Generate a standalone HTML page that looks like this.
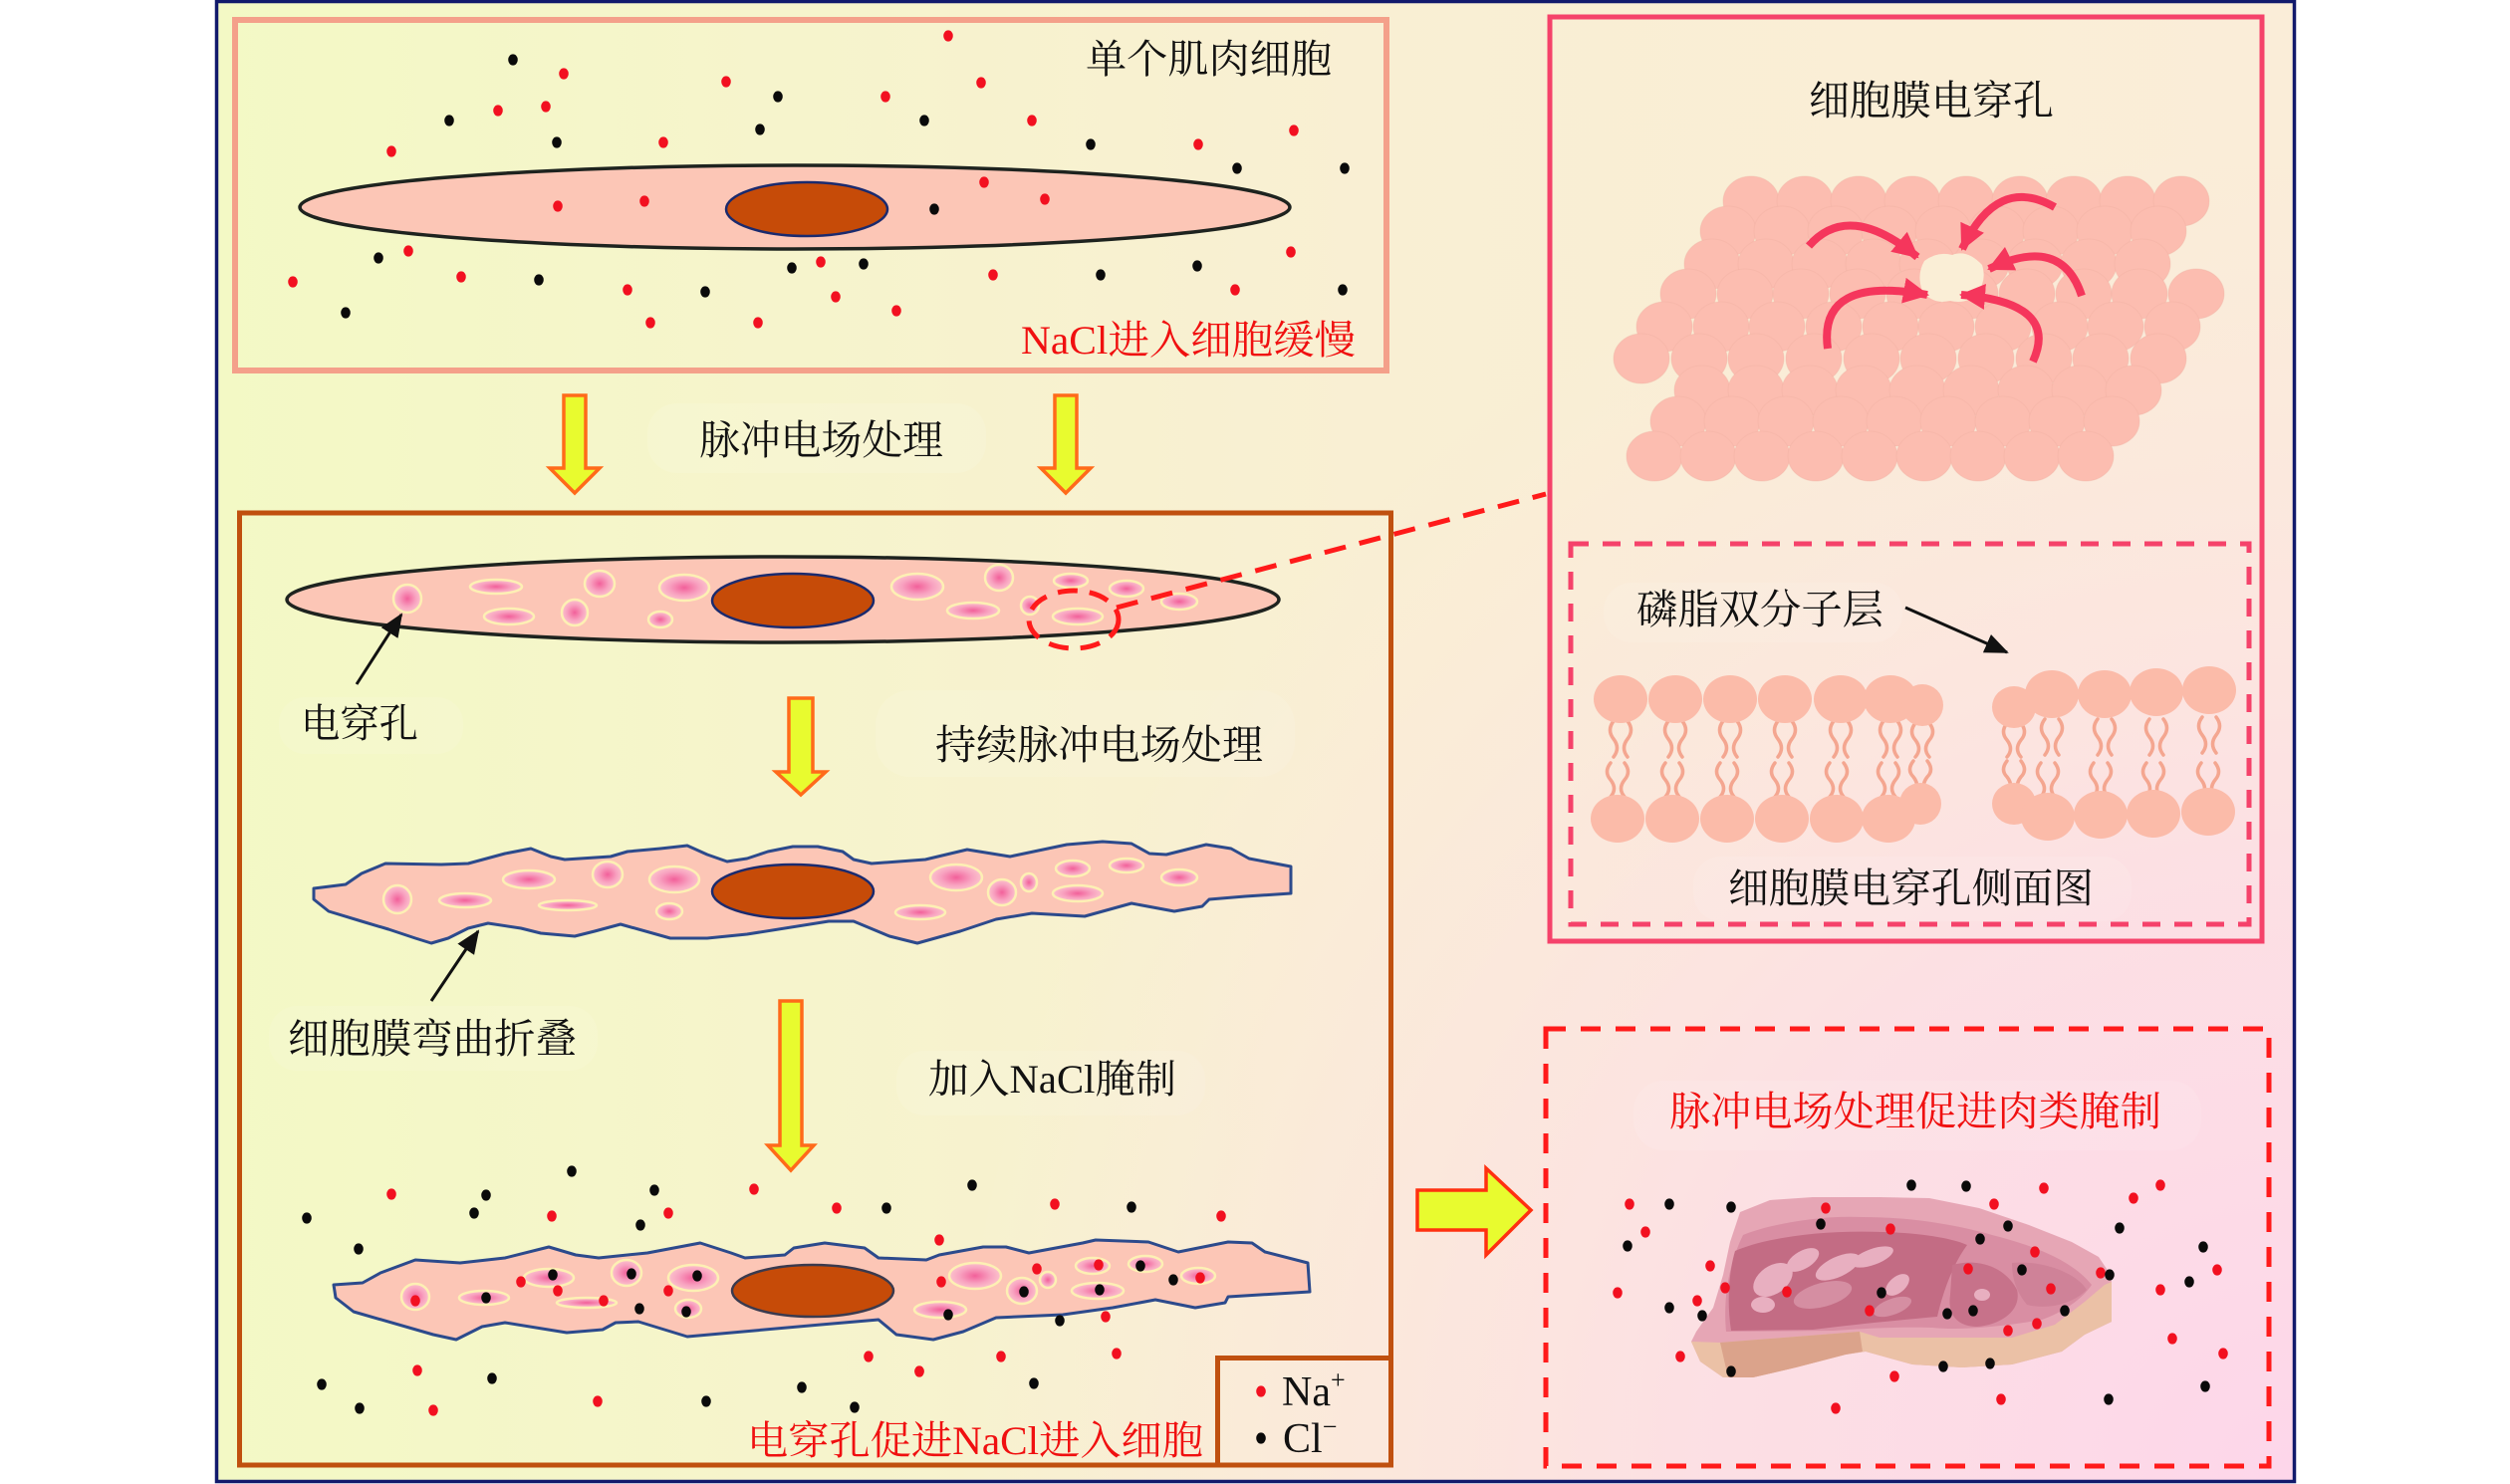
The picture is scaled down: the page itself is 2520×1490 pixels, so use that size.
<!DOCTYPE html>
<html><head><meta charset="utf-8">
<style>
html,body{margin:0;padding:0;background:#fff;}
svg{display:block;}
text{font-family:"Liberation Serif","Noto Serif CJK SC",serif;}
</style></head>
<body>
<svg width="2520" height="1490" viewBox="0 0 2520 1490" xmlns="http://www.w3.org/2000/svg">
<defs>
  <linearGradient id="bgH" x1="216" y1="0" x2="2305" y2="0" gradientUnits="userSpaceOnUse">
    <stop offset="0" stop-color="#f3f9c5"/>
    <stop offset="0.55" stop-color="#f9efd3"/>
    <stop offset="1" stop-color="#faedd8"/>
  </linearGradient>
  <radialGradient id="bgP" cx="2305" cy="1490" r="1350" gradientUnits="userSpaceOnUse">
    <stop offset="0" stop-color="#fdd6ea" stop-opacity="1"/>
    <stop offset="0.45" stop-color="#fddde6" stop-opacity="0.85"/>
    <stop offset="1" stop-color="#fde4e4" stop-opacity="0"/>
  </radialGradient>
  <radialGradient id="pg" cx="0.5" cy="0.5" r="0.5">
    <stop offset="0" stop-color="#f2609a"/>
    <stop offset="0.6" stop-color="#f8a2c0"/>
    <stop offset="1" stop-color="#fcc3cc"/>
  </radialGradient>
  <ellipse id="R" cx="0" cy="0" rx="4.8" ry="5.6" fill="#f21020"/>
  <ellipse id="B" cx="0" cy="0" rx="4.8" ry="5.6" fill="#0a0a0a"/>
  <ellipse id="M" cx="0" cy="0" rx="28" ry="25"/>
  <marker id="ra" markerUnits="userSpaceOnUse" markerWidth="32" markerHeight="30" refX="24" refY="13" orient="auto">
    <path d="M0,0 L26,13 L0,26 Z" fill="#f5365c"/>
  </marker>
  <marker id="ba" markerUnits="userSpaceOnUse" markerWidth="28" markerHeight="24" refX="22" refY="10" orient="auto">
    <path d="M0,0 L24,10 L0,20 Z" fill="#111"/>
  </marker>
</defs>

<!-- frame background -->
<rect x="216" y="1" width="2088" height="1487" fill="url(#bgH)"/>
<rect x="216" y="1" width="2088" height="1487" fill="url(#bgP)"/>

<!-- faint label backdrops -->
<g fill="#ffffff" opacity="0.1">
  <rect x="650" y="405" width="340" height="70" rx="30"/>
  <rect x="280" y="700" width="185" height="57" rx="26"/>
  <rect x="879" y="693" width="421" height="87" rx="35"/>
  <rect x="270" y="1010" width="330" height="65" rx="28"/>
  <rect x="900" y="1055" width="310" height="65" rx="28"/>
  <rect x="1610" y="585" width="300" height="60" rx="28"/>
  <rect x="1700" y="860" width="440" height="65" rx="28"/>
  <rect x="1640" y="1085" width="570" height="70" rx="30"/>
</g>

<!-- main frame border -->
<rect x="217.5" y="1.5" width="2086" height="1486" fill="none" stroke="#121a6c" stroke-width="3.5"/>

<!-- ===== TOP BOX ===== -->
<rect x="236" y="20" width="1156" height="352" fill="none" stroke="#f4a08a" stroke-width="6"/>
<text x="1090" y="73" font-size="40" fill="#111" textLength="247" lengthAdjust="spacingAndGlyphs">单个肌肉细胞</text>
<text x="1025" y="355" font-size="40" fill="#f01010" textLength="336" lengthAdjust="spacingAndGlyphs">NaCl进入细胞缓慢</text>

<ellipse cx="798" cy="208" rx="497" ry="42" fill="#fcc6b6" stroke="#1e231f" stroke-width="3.5"/>
<ellipse cx="810" cy="210" rx="81" ry="27" fill="#c64b08" stroke="#1a2a6e" stroke-width="2.5"/>

<g>
<use href="#R" x="952" y="36"/><use href="#R" x="566" y="74"/><use href="#R" x="729" y="82"/><use href="#R" x="985" y="83"/>
<use href="#R" x="889" y="97"/><use href="#R" x="500" y="111"/><use href="#R" x="548" y="107"/><use href="#R" x="1036" y="121"/>
<use href="#R" x="1299" y="131"/><use href="#R" x="666" y="143"/><use href="#R" x="1203" y="145"/><use href="#R" x="393" y="152"/>
<use href="#R" x="988" y="183"/><use href="#R" x="1049" y="200"/><use href="#R" x="560" y="207"/><use href="#R" x="647" y="202"/>
<use href="#R" x="410" y="252"/><use href="#R" x="294" y="283"/><use href="#R" x="463" y="278"/><use href="#R" x="630" y="291"/>
<use href="#R" x="824" y="263"/><use href="#R" x="839" y="298"/><use href="#R" x="900" y="312"/><use href="#R" x="653" y="324"/>
<use href="#R" x="761" y="324"/><use href="#R" x="997" y="276"/><use href="#R" x="1296" y="253"/><use href="#R" x="1240" y="291"/>
<use href="#B" x="515" y="60"/><use href="#B" x="781" y="97"/><use href="#B" x="451" y="121"/><use href="#B" x="928" y="121"/>
<use href="#B" x="763" y="130"/><use href="#B" x="559" y="143"/><use href="#B" x="1095" y="145"/><use href="#B" x="1242" y="169"/>
<use href="#B" x="1350" y="169"/><use href="#B" x="938" y="210"/><use href="#B" x="380" y="259"/><use href="#B" x="541" y="281"/>
<use href="#B" x="708" y="293"/><use href="#B" x="795" y="269"/><use href="#B" x="867" y="265"/><use href="#B" x="347" y="314"/>
<use href="#B" x="1105" y="276"/><use href="#B" x="1202" y="267"/><use href="#B" x="1348" y="291"/>
</g>

<!-- yellow down arrows -->
<g fill="#e8fb2f" stroke="#ff6a1a" stroke-width="3.5" stroke-linejoin="miter">
  <polygon points="566,397 588,397 588,470 602,470 577,495 552,470 566,470"/>
  <polygon points="1059,397 1081,397 1081,470 1095,470 1070,495 1045,470 1059,470"/>
  <polygon points="792,701 816,701 816,775 829,775 804,798 779,775 792,775"/>
  <polygon points="783,1005 805,1005 805,1150 817,1150 794,1175 771,1150 783,1150"/>
</g>
<text x="702" y="456" font-size="41" fill="#111" textLength="245" lengthAdjust="spacingAndGlyphs">脉冲电场处理</text>

<!-- ===== MIDDLE BOX ===== -->
<rect x="240.5" y="515" width="1156" height="956" fill="none" stroke="#c0500f" stroke-width="5"/>
<rect x="1222.5" y="1363.5" width="174" height="107.5" fill="none" stroke="#c0500f" stroke-width="5"/>

<!-- cell 2 -->
<ellipse cx="786" cy="602" rx="498" ry="43" fill="#fcc6b6" stroke="#1e231f" stroke-width="3.5"/>
<ellipse cx="796" cy="603" rx="81" ry="27" fill="#c64b08" stroke="#1a2a6e" stroke-width="2.5"/>
<g fill="url(#pg)" stroke="#fdf0b4" stroke-width="2.5">
  <ellipse cx="409" cy="601" rx="14" ry="14"/><ellipse cx="498" cy="589" rx="26" ry="7"/>
  <ellipse cx="511" cy="619" rx="25" ry="8"/><ellipse cx="602" cy="586" rx="15" ry="13"/>
  <ellipse cx="577" cy="615" rx="13" ry="13"/><ellipse cx="687" cy="590" rx="25" ry="13"/>
  <ellipse cx="663" cy="622" rx="12" ry="8"/><ellipse cx="921" cy="589" rx="26" ry="13"/>
  <ellipse cx="1003" cy="580" rx="14" ry="13"/><ellipse cx="977" cy="613" rx="26" ry="8"/>
  <ellipse cx="1075" cy="583" rx="17" ry="7"/><ellipse cx="1034" cy="608" rx="9" ry="9"/>
  <ellipse cx="1082" cy="619" rx="25" ry="8"/><ellipse cx="1131" cy="591" rx="17" ry="8"/>
  <ellipse cx="1184" cy="604" rx="18" ry="8"/>
</g>
<ellipse cx="1078" cy="622" rx="45" ry="29" fill="none" stroke="#ff1a1a" stroke-width="5" stroke-dasharray="20 12"/>
<line x1="1121" y1="610" x2="1552" y2="496" stroke="#ff1a1a" stroke-width="5" stroke-dasharray="22 14"/>

<line x1="358" y1="687" x2="403" y2="617" stroke="#111" stroke-width="3" marker-end="url(#ba)"/>
<text x="302" y="740" font-size="40" fill="#111" textLength="118" lengthAdjust="spacingAndGlyphs">电穿孔</text>
<text x="939" y="762" font-size="41" fill="#111" textLength="329" lengthAdjust="spacingAndGlyphs">持续脉冲电场处理</text>

<!-- cell 3 wavy -->
<path d="M315,892 L347,888 L363,877 L387,867 L443,868 L470,867 L507,857 L533,852 L553,860 L567,863 L613,860 L630,855 L663,852 L690,849 L710,858 L730,865 L750,862 L771,855 L796,850 L821,850 L846,855 L857,863 L875,867 L929,863 L971,853 L1014,860 L1071,848 L1107,845 L1136,847 L1154,857 L1171,858 L1211,848 L1236,852 L1254,862 L1296,870 L1296,897 L1250,900 L1214,903 L1207,910 L1179,915 L1136,907 L1089,920 L1036,917 L1000,923 L964,935 L921,947 L893,940 L857,925 L832,925 L750,938 L710,942 L673,942 L623,928 L597,935 L577,940 L543,937 L523,932 L490,927 L470,932 L450,942 L433,947 L417,942 L390,933 L363,925 L330,915 L315,903 Z" fill="#fcc6b6" stroke="#2c4a8c" stroke-width="3" stroke-linejoin="round"/>
<ellipse cx="796" cy="895" rx="81" ry="27" fill="#c64b08" stroke="#1a2a6e" stroke-width="2.5"/>
<g fill="url(#pg)" stroke="#fdf0b4" stroke-width="2.5">
  <ellipse cx="399" cy="903" rx="14" ry="14"/><ellipse cx="467" cy="904" rx="26" ry="7"/>
  <ellipse cx="531" cy="883" rx="26" ry="9"/><ellipse cx="570" cy="909" rx="29" ry="5"/>
  <ellipse cx="610" cy="878" rx="15" ry="13"/><ellipse cx="677" cy="883" rx="25" ry="13"/>
  <ellipse cx="672" cy="915" rx="13" ry="8"/><ellipse cx="960" cy="881" rx="26" ry="13"/>
  <ellipse cx="924" cy="916" rx="25" ry="7"/><ellipse cx="1006" cy="896" rx="14" ry="13"/>
  <ellipse cx="1033" cy="886" rx="8" ry="9"/><ellipse cx="1077" cy="872" rx="17" ry="8"/>
  <ellipse cx="1082" cy="897" rx="25" ry="8"/><ellipse cx="1131" cy="869" rx="17" ry="7"/>
  <ellipse cx="1184" cy="881" rx="18" ry="8"/>
</g>
<line x1="433" y1="1005" x2="480" y2="935" stroke="#111" stroke-width="3" marker-end="url(#ba)"/>
<text x="289" y="1057" font-size="41" fill="#111" textLength="290" lengthAdjust="spacingAndGlyphs">细胞膜弯曲折叠</text>
<text x="932" y="1097" font-size="40" fill="#111" textLength="249" lengthAdjust="spacingAndGlyphs">加入NaCl腌制</text>

<!-- cell 4 -->
<path d="M335,1290 L364,1288 L382,1278 L417,1265 L462,1268 L507,1263 L551,1252 L578,1260 L601,1263 L650,1258 L703,1248 L734,1258 L748,1263 L788,1260 L797,1253 L828,1248 L868,1253 L882,1263 L930,1265 L943,1260 L987,1252 L1010,1252 L1033,1258 L1087,1248 L1100,1245 L1153,1247 L1183,1257 L1233,1247 L1257,1248 L1270,1257 L1313,1268 L1315,1297 L1233,1302 L1230,1308 L1200,1313 L1160,1305 L1117,1313 L1067,1320 L1000,1323 L967,1337 L937,1345 L900,1340 L882,1325 L824,1330 L690,1342 L641,1327 L618,1328 L605,1335 L569,1338 L507,1328 L484,1332 L458,1345 L435,1340 L355,1317 L337,1303 Z" fill="#fcc6b6" stroke="#2c4a8c" stroke-width="3" stroke-linejoin="round"/>
<ellipse cx="816" cy="1296" rx="81" ry="26" fill="#c64b08" stroke="#3a3a4e" stroke-width="2.5"/>
<g fill="url(#pg)" stroke="#fdf0b4" stroke-width="2.5">
  <ellipse cx="417" cy="1302" rx="14" ry="13"/><ellipse cx="486" cy="1303" rx="25" ry="7"/>
  <ellipse cx="551" cy="1283" rx="25" ry="9"/><ellipse cx="589" cy="1308" rx="30" ry="5"/>
  <ellipse cx="629" cy="1278" rx="15" ry="13"/><ellipse cx="696" cy="1283" rx="25" ry="13"/>
  <ellipse cx="691" cy="1314" rx="13" ry="9"/><ellipse cx="979" cy="1281" rx="26" ry="13"/>
  <ellipse cx="944" cy="1315" rx="26" ry="8"/><ellipse cx="1026" cy="1296" rx="15" ry="13"/>
  <ellipse cx="1052" cy="1285" rx="8" ry="8"/><ellipse cx="1097" cy="1271" rx="17" ry="8"/>
  <ellipse cx="1102" cy="1296" rx="26" ry="8"/><ellipse cx="1150" cy="1269" rx="17" ry="8"/>
  <ellipse cx="1203" cy="1281" rx="17" ry="8"/>
</g>
<g>
<use href="#B" x="574" y="1176"/><use href="#R" x="393" y="1199"/><use href="#B" x="488" y="1200"/><use href="#B" x="657" y="1195"/>
<use href="#B" x="308" y="1223"/><use href="#B" x="476" y="1218"/><use href="#R" x="554" y="1221"/><use href="#R" x="671" y="1218"/>
<use href="#B" x="643" y="1230"/><use href="#R" x="757" y="1194"/><use href="#R" x="840" y="1213"/><use href="#B" x="890" y="1213"/>
<use href="#B" x="360" y="1254"/>
<use href="#R" x="417" y="1306"/><use href="#B" x="488" y="1303"/><use href="#R" x="523" y="1287"/><use href="#B" x="555" y="1280"/>
<use href="#R" x="560" y="1296"/><use href="#R" x="606" y="1306"/><use href="#B" x="634" y="1279"/><use href="#B" x="642" y="1314"/>
<use href="#R" x="671" y="1296"/><use href="#B" x="700" y="1281"/><use href="#B" x="689" y="1317"/>
<use href="#R" x="419" y="1376"/><use href="#B" x="323" y="1390"/><use href="#B" x="494" y="1384"/><use href="#B" x="361" y="1414"/>
<use href="#R" x="435" y="1416"/><use href="#R" x="600" y="1407"/><use href="#B" x="709" y="1407"/><use href="#B" x="805" y="1393"/>
<use href="#B" x="858" y="1413"/><use href="#R" x="872" y="1362"/><use href="#R" x="923" y="1377"/>
<use href="#B" x="976" y="1190"/><use href="#R" x="1059" y="1209"/><use href="#B" x="1136" y="1212"/><use href="#R" x="1226" y="1221"/>
<use href="#R" x="943" y="1245"/><use href="#R" x="945" y="1287"/><use href="#B" x="952" y="1320"/><use href="#R" x="1041" y="1274"/>
<use href="#B" x="1028" y="1297"/><use href="#R" x="1103" y="1270"/><use href="#B" x="1104" y="1295"/><use href="#B" x="1145" y="1271"/>
<use href="#B" x="1178" y="1285"/><use href="#R" x="1205" y="1283"/><use href="#B" x="1064" y="1326"/><use href="#R" x="1110" y="1322"/>
<use href="#R" x="1005" y="1362"/><use href="#R" x="1121" y="1359"/><use href="#R" x="923" y="1377"/><use href="#B" x="1038" y="1389"/>
</g>
<text x="750" y="1460" font-size="40" fill="#f01010" textLength="458" lengthAdjust="spacingAndGlyphs">电穿孔促进NaCl进入细胞</text>

<!-- legend -->
<use href="#R" x="1266" y="1397"/>
<use href="#B" x="1266" y="1444"/>
<text x="1287" y="1411" font-size="42" fill="#111">Na<tspan dy="-17" font-size="26">+</tspan></text>
<text x="1288" y="1458" font-size="42" fill="#111">Cl<tspan dy="-17" font-size="26">−</tspan></text>

<!-- ===== RIGHT TOP BOX ===== -->
<rect x="1556" y="17" width="715" height="928" fill="none" stroke="#f5426a" stroke-width="5"/>
<text x="1816" y="115" font-size="41" fill="#111" textLength="246" lengthAdjust="spacingAndGlyphs">细胞膜电穿孔</text>

<g fill="#fcbdb0" stroke="#eeb0a0" stroke-opacity="0.35" stroke-width="1">
  <use href="#M" x="1758" y="202"/><use href="#M" x="1812" y="202"/><use href="#M" x="1866" y="202"/><use href="#M" x="1920" y="202"/><use href="#M" x="1974" y="202"/><use href="#M" x="2028" y="202"/><use href="#M" x="2082" y="202"/><use href="#M" x="2136" y="202"/><use href="#M" x="2190" y="202"/>
  <use href="#M" x="1735" y="232"/><use href="#M" x="1789" y="232"/><use href="#M" x="1843" y="232"/><use href="#M" x="1897" y="232"/><use href="#M" x="1951" y="232"/><use href="#M" x="2005" y="232"/><use href="#M" x="2059" y="232"/><use href="#M" x="2113" y="232"/><use href="#M" x="2167" y="232"/>
  <use href="#M" x="1719" y="265"/><use href="#M" x="1773" y="265"/><use href="#M" x="1827" y="265"/><use href="#M" x="1881" y="265"/><use href="#M" x="1935" y="265"/><use href="#M" x="1989" y="265"/><use href="#M" x="2043" y="265"/><use href="#M" x="2097" y="265"/><use href="#M" x="2151" y="265"/>
  <use href="#M" x="1695" y="295"/><use href="#M" x="1752" y="295"/><use href="#M" x="1808" y="295"/><use href="#M" x="1865" y="295"/><use href="#M" x="1922" y="295"/><use href="#M" x="1978" y="295"/><use href="#M" x="2035" y="295"/><use href="#M" x="2092" y="295"/><use href="#M" x="2148" y="295"/><use href="#M" x="2205" y="295"/>
  <use href="#M" x="1671" y="328"/><use href="#M" x="1728" y="328"/><use href="#M" x="1784" y="328"/><use href="#M" x="1841" y="328"/><use href="#M" x="1898" y="328"/><use href="#M" x="1954" y="328"/><use href="#M" x="2011" y="328"/><use href="#M" x="2068" y="328"/><use href="#M" x="2124" y="328"/><use href="#M" x="2181" y="328"/>
  <use href="#M" x="1648" y="360"/><use href="#M" x="1706" y="360"/><use href="#M" x="1763" y="360"/><use href="#M" x="1821" y="360"/><use href="#M" x="1879" y="360"/><use href="#M" x="1936" y="360"/><use href="#M" x="1994" y="360"/><use href="#M" x="2052" y="360"/><use href="#M" x="2109" y="360"/><use href="#M" x="2167" y="360"/>
  <use href="#M" x="1709" y="392"/><use href="#M" x="1763" y="392"/><use href="#M" x="1817" y="392"/><use href="#M" x="1871" y="392"/><use href="#M" x="1925" y="392"/><use href="#M" x="1979" y="392"/><use href="#M" x="2034" y="392"/><use href="#M" x="2088" y="392"/><use href="#M" x="2142" y="392"/>
  <use href="#M" x="1685" y="423"/><use href="#M" x="1739" y="423"/><use href="#M" x="1793" y="423"/><use href="#M" x="1848" y="423"/><use href="#M" x="1902" y="423"/><use href="#M" x="1956" y="423"/><use href="#M" x="2011" y="423"/><use href="#M" x="2065" y="423"/><use href="#M" x="2120" y="423"/>
  <use href="#M" x="1661" y="458"/><use href="#M" x="1715" y="458"/><use href="#M" x="1769" y="458"/><use href="#M" x="1823" y="458"/><use href="#M" x="1877" y="458"/><use href="#M" x="1932" y="458"/><use href="#M" x="1986" y="458"/><use href="#M" x="2040" y="458"/><use href="#M" x="2094" y="458"/>
</g>
<!-- pore -->
<path d="M1932,262 Q1945,252 1960,256 Q1975,250 1990,266 Q1995,282 1985,294 Q1975,306 1958,302 Q1940,306 1930,292 Q1924,276 1932,262 Z" fill="#faeed6"/>
<!-- red curved arrows -->
<g fill="none" stroke="#f5365c" stroke-width="8" stroke-linecap="butt">
  <path d="M1816,247 Q1856,201 1925,258" marker-end="url(#ra)"/>
  <path d="M2063,208 Q2005,175 1970,250" marker-end="url(#ra)"/>
  <path d="M2090,297 Q2070,235 1997,270" marker-end="url(#ra)"/>
  <path d="M1835,350 Q1825,276 1935,296" marker-end="url(#ra)"/>
  <path d="M2041,363 Q2068,304 1969,296" marker-end="url(#ra)"/>
</g>

<!-- inner dashed box -->
<rect x="1577" y="546" width="681" height="382" fill="none" stroke="#f5426a" stroke-width="5" stroke-dasharray="18 14"/>
<text x="1643" y="626" font-size="41" fill="#111" textLength="248" lengthAdjust="spacingAndGlyphs">磷脂双分子层</text>
<line x1="1913" y1="610" x2="2015" y2="655" stroke="#111" stroke-width="3" marker-end="url(#ba)"/>

<!-- lipid tails -->
<g fill="none" stroke="#f4a690" stroke-width="3.5" stroke-linecap="round">
  <path d="M1620,724 q-7,9 0,18 q7,9 0,18 M1634,724 q7,9 0,18 q-7,9 0,18 M1617,766 q-7,9 0,17 q7,9 0,17 M1631,766 q7,9 0,17 q-7,9 0,17"/>
  <path d="M1675,724 q-7,9 0,18 q7,9 0,18 M1689,724 q7,9 0,18 q-7,9 0,18 M1672,766 q-7,9 0,17 q7,9 0,17 M1686,766 q7,9 0,17 q-7,9 0,17"/>
  <path d="M1730,724 q-7,9 0,18 q7,9 0,18 M1744,724 q7,9 0,18 q-7,9 0,18 M1727,766 q-7,9 0,17 q7,9 0,17 M1741,766 q7,9 0,17 q-7,9 0,17"/>
  <path d="M1785,724 q-7,9 0,18 q7,9 0,18 M1799,724 q7,9 0,18 q-7,9 0,18 M1782,766 q-7,9 0,17 q7,9 0,17 M1796,766 q7,9 0,17 q-7,9 0,17"/>
  <path d="M1841,724 q-7,9 0,18 q7,9 0,18 M1855,724 q7,9 0,18 q-7,9 0,18 M1837,766 q-7,9 0,17 q7,9 0,17 M1851,766 q7,9 0,17 q-7,9 0,17"/>
  <path d="M1891,724 q-7,9 0,18 q7,9 0,18 M1905,724 q7,9 0,18 q-7,9 0,18 M1889,766 q-7,9 0,17 q7,9 0,17 M1903,766 q7,9 0,17 q-7,9 0,17"/>
  <path d="M1923,726 q-7,9 0,17 q7,9 0,17 M1937,726 q7,9 0,17 q-7,9 0,17 M1921,764 q-7,9 0,16 q7,9 0,16 M1935,764 q7,9 0,16 q-7,9 0,16"/>
  <path d="M2015,726 q-7,9 0,17 q7,9 0,17 M2029,726 q7,9 0,17 q-7,9 0,17 M2015,764 q-7,9 0,16 q7,9 0,16 M2029,764 q7,9 0,16 q-7,9 0,16"/>
  <path d="M2053,722 q-7,9 0,18 q7,9 0,18 M2067,722 q7,9 0,18 q-7,9 0,18 M2049,766 q-7,9 0,17 q7,9 0,17 M2063,766 q7,9 0,17 q-7,9 0,17"/>
  <path d="M2106,722 q-7,9 0,18 q7,9 0,18 M2120,722 q7,9 0,18 q-7,9 0,18 M2102,766 q-7,9 0,17 q7,9 0,17 M2116,766 q7,9 0,17 q-7,9 0,17"/>
  <path d="M2158,722 q-7,9 0,18 q7,9 0,18 M2172,722 q7,9 0,18 q-7,9 0,18 M2155,766 q-7,9 0,17 q7,9 0,17 M2169,766 q7,9 0,17 q-7,9 0,17"/>
  <path d="M2211,720 q-7,9 0,18 q7,9 0,18 M2225,720 q7,9 0,18 q-7,9 0,18 M2210,766 q-7,9 0,17 q7,9 0,17 M2224,766 q7,9 0,17 q-7,9 0,17"/>
</g>
<!-- lipid heads -->
<g fill="#fbbba9">
  <ellipse cx="1627" cy="702" rx="27" ry="24"/><ellipse cx="1682" cy="702" rx="27" ry="24"/><ellipse cx="1737" cy="702" rx="27" ry="24"/>
  <ellipse cx="1792" cy="702" rx="27" ry="24"/><ellipse cx="1848" cy="702" rx="27" ry="24"/><ellipse cx="1898" cy="702" rx="27" ry="24"/>
  <ellipse cx="1930" cy="708" rx="21" ry="21"/>
  <ellipse cx="1624" cy="822" rx="27" ry="24"/><ellipse cx="1679" cy="822" rx="27" ry="24"/><ellipse cx="1734" cy="822" rx="27" ry="24"/>
  <ellipse cx="1789" cy="822" rx="27" ry="24"/><ellipse cx="1844" cy="822" rx="27" ry="24"/><ellipse cx="1896" cy="822" rx="27" ry="24"/>
  <ellipse cx="1928" cy="807" rx="21" ry="21"/>
  <ellipse cx="2022" cy="710" rx="22" ry="21"/><ellipse cx="2060" cy="697" rx="27" ry="24"/><ellipse cx="2113" cy="697" rx="27" ry="24"/>
  <ellipse cx="2165" cy="695" rx="27" ry="24"/><ellipse cx="2218" cy="693" rx="27" ry="24"/>
  <ellipse cx="2022" cy="807" rx="22" ry="21"/><ellipse cx="2056" cy="820" rx="27" ry="24"/><ellipse cx="2109" cy="818" rx="27" ry="24"/>
  <ellipse cx="2162" cy="817" rx="27" ry="24"/><ellipse cx="2217" cy="815" rx="27" ry="24"/>
</g>
<text x="1735" y="906" font-size="41" fill="#111" textLength="367" lengthAdjust="spacingAndGlyphs">细胞膜电穿孔侧面图</text>

<!-- right yellow arrow -->
<polygon points="1423,1195 1492,1195 1492,1173 1537,1215 1492,1260 1492,1235 1423,1235" fill="#e8fb2f" stroke="#ff3010" stroke-width="3.5"/>

<!-- ===== BOTTOM RIGHT BOX ===== -->
<rect x="1552" y="1033" width="726" height="439" fill="none" stroke="#ff1a1a" stroke-width="5" stroke-dasharray="20 15"/>
<text x="1676" y="1130" font-size="41" fill="#f01010" textLength="494" lengthAdjust="spacingAndGlyphs">脉冲电场处理促进肉类腌制</text>

<!-- meat -->
<path d="M1747,1217 L1777,1205 L1820,1202 L1887,1202 L1937,1203 L1987,1213 L2037,1230 L2080,1247 L2107,1262 L2117,1277 L2120,1287 L2120,1327 L2093,1340 L2070,1357 L2020,1370 L1970,1373 L1920,1370 L1873,1357 L1853,1360 L1803,1373 L1760,1383 L1730,1383 L1707,1367 L1698,1347 L1703,1337 L1720,1313 L1730,1280 L1737,1247 Z" fill="#e6a6b5"/>
<path d="M1698,1347 L1727,1348 L1867,1337 L1887,1343 L1953,1343 L2020,1343 L2063,1330 L2093,1307 L2113,1290 L2120,1287 L2120,1327 L2093,1340 L2070,1357 L2020,1370 L1970,1373 L1920,1370 L1873,1357 L1853,1360 L1803,1373 L1760,1383 L1730,1383 L1707,1367 Z" fill="#ebc1a6"/>
<path d="M1727,1348 L1867,1337 L1870,1357 L1853,1360 L1803,1373 L1760,1383 L1735,1383 Z" fill="#dba38b"/>
<path d="M1750,1240 C1780,1228 1830,1220 1870,1222 C1920,1222 1965,1230 2000,1240 C2040,1250 2080,1265 2100,1290 C2090,1305 2070,1318 2050,1325 C2010,1332 1970,1336 1940,1333 C1900,1332 1870,1334 1840,1336 L1733,1337 C1730,1305 1735,1270 1750,1240 Z" fill="#d98ea3"/>
<path d="M1742,1256 C1780,1240 1840,1235 1890,1237 C1935,1238 1965,1245 1975,1250 C1960,1270 1950,1300 1945,1322 C1900,1326 1860,1330 1820,1335 L1738,1336 C1734,1310 1735,1280 1742,1256 Z" fill="#c36c84"/>
<path d="M1960,1270 C1990,1262 2015,1275 2025,1295 C2030,1315 2010,1330 1985,1332 C1965,1332 1955,1320 1958,1300 Z" fill="#c7728a"/>
<path d="M2020,1268 C2050,1265 2085,1278 2095,1295 C2080,1310 2055,1315 2035,1310 C2025,1298 2020,1285 2020,1268 Z" fill="#cf8298"/>
<g fill="#e8afc0">
  <ellipse cx="1780" cy="1285" rx="22" ry="14" transform="rotate(-35 1780 1285)"/>
  <ellipse cx="1810" cy="1265" rx="18" ry="9" transform="rotate(-30 1810 1265)"/>
  <ellipse cx="1845" cy="1272" rx="24" ry="10" transform="rotate(-25 1845 1272)"/>
  <ellipse cx="1880" cy="1262" rx="22" ry="8" transform="rotate(-20 1880 1262)"/>
  <ellipse cx="1905" cy="1290" rx="14" ry="8" transform="rotate(-40 1905 1290)"/>
  <ellipse cx="1990" cy="1300" rx="8" ry="6"/>
  <ellipse cx="1770" cy="1310" rx="12" ry="8"/>
</g>
<g fill="#d58ea2">
  <ellipse cx="1830" cy="1300" rx="30" ry="12" transform="rotate(-15 1830 1300)"/>
  <ellipse cx="1900" cy="1312" rx="20" ry="8" transform="rotate(-20 1900 1312)"/>
</g>
<g>
<use href="#R" x="1636" y="1209"/><use href="#B" x="1676" y="1209"/><use href="#B" x="1738" y="1212"/><use href="#R" x="1652" y="1237"/>
<use href="#B" x="1634" y="1251"/><use href="#R" x="1624" y="1298"/><use href="#B" x="1676" y="1313"/><use href="#B" x="1709" y="1321"/>
<use href="#R" x="1704" y="1306"/><use href="#R" x="1717" y="1271"/><use href="#R" x="1732" y="1293"/><use href="#R" x="1687" y="1362"/>
<use href="#B" x="1738" y="1377"/><use href="#R" x="1833" y="1213"/><use href="#B" x="1828" y="1229"/><use href="#R" x="1898" y="1234"/>
<use href="#R" x="1794" y="1297"/><use href="#B" x="1889" y="1298"/><use href="#R" x="1877" y="1316"/><use href="#B" x="1919" y="1190"/>
<use href="#B" x="1974" y="1191"/><use href="#R" x="2052" y="1193"/><use href="#R" x="2002" y="1209"/><use href="#B" x="2016" y="1231"/>
<use href="#B" x="1988" y="1244"/><use href="#R" x="2043" y="1257"/><use href="#R" x="1976" y="1274"/><use href="#B" x="2030" y="1275"/>
<use href="#R" x="2059" y="1294"/><use href="#B" x="1955" y="1319"/><use href="#B" x="1981" y="1316"/><use href="#B" x="2073" y="1316"/>
<use href="#R" x="2016" y="1336"/><use href="#R" x="2045" y="1329"/><use href="#R" x="2109" y="1278"/><use href="#B" x="2118" y="1280"/>
<use href="#R" x="2142" y="1203"/><use href="#R" x="2169" y="1190"/><use href="#B" x="2128" y="1233"/><use href="#B" x="2212" y="1252"/>
<use href="#R" x="2226" y="1275"/><use href="#B" x="2198" y="1287"/><use href="#R" x="2169" y="1295"/><use href="#R" x="2181" y="1344"/>
<use href="#R" x="2232" y="1359"/><use href="#B" x="2214" y="1392"/><use href="#B" x="2117" y="1405"/><use href="#R" x="2009" y="1405"/>
<use href="#R" x="1902" y="1382"/><use href="#B" x="1951" y="1372"/><use href="#B" x="1998" y="1369"/><use href="#R" x="1843" y="1414"/>
</g>
</svg>
</body></html>
